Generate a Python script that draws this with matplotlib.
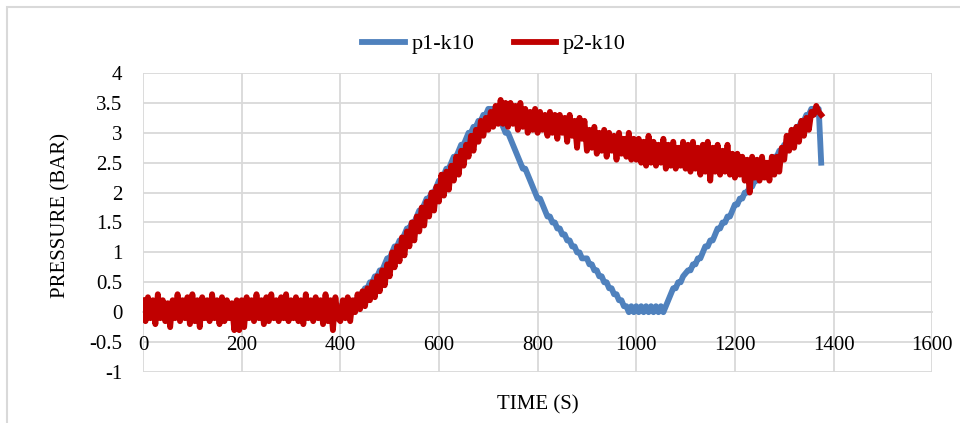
import numpy as np
import matplotlib.pyplot as plt
from matplotlib.patches import Rectangle

# sample times (s), one reading every 5 s
time_s = np.arange(0, 1376, 5)

# p1-k10 pressure (bar)
p1_k10 = [
    0.1, 0.0, 0.1, 0.0, 0.1, 0.1, 0.0, 0.1, 0.0, 0.1, 0.0, 0.1, 0.1, 0.0, 0.1, 0.0, 0.1, 0.0, 0.1, 0.1,
    0.0, 0.1, 0.0, 0.1, 0.1, 0.0, 0.1, 0.0, 0.1, 0.0, 0.1, 0.1, 0.0, 0.1, 0.0, 0.1, 0.0, 0.1, 0.0, 0.1,
    0.1, 0.0, 0.1, 0.0, 0.1, 0.0, 0.1, 0.1, 0.0, 0.1, 0.0, 0.1, 0.0, 0.1, 0.1, 0.0, 0.1, 0.0, 0.1, 0.0,
    0.1, 0.1, 0.0, 0.1, 0.0, 0.1, 0.0, 0.1, 0.1, 0.0, 0.1, 0.0, 0.1, 0.0, 0.1, 0.1, 0.0, 0.1, 0.0, 0.1,
    0.1, 0.0, 0.1, 0.1, 0.0, 0.1, 0.2, 0.2, 0.3, 0.3, 0.4, 0.4, 0.5, 0.5, 0.6, 0.6, 0.7, 0.7, 0.8, 0.9,
    0.9, 1.0, 1.1, 1.1, 1.2, 1.2, 1.3, 1.4, 1.4, 1.5, 1.5, 1.6, 1.7, 1.7, 1.8, 1.9, 1.9, 2.0, 2.0, 2.1,
    2.2, 2.2, 2.3, 2.4, 2.4, 2.5, 2.6, 2.6, 2.7, 2.8, 2.8, 2.9, 3.0, 3.0, 3.1, 3.1, 3.2, 3.2, 3.3, 3.3,
    3.4, 3.4, 3.4, 3.4, 3.3, 3.2, 3.1, 3.0, 3.0, 2.9, 2.8, 2.7, 2.6, 2.5, 2.4, 2.4, 2.3, 2.2, 2.1, 2.0,
    1.9, 1.9, 1.8, 1.7, 1.6, 1.6, 1.5, 1.5, 1.4, 1.4, 1.3, 1.3, 1.2, 1.2, 1.1, 1.1, 1.0, 1.0, 0.9, 0.9,
    0.9, 0.8, 0.8, 0.7, 0.7, 0.6, 0.6, 0.5, 0.5, 0.4, 0.4, 0.3, 0.3, 0.2, 0.2, 0.1, 0.1, 0.0, 0.1, 0.0,
    0.1, 0.0, 0.1, 0.0, 0.1, 0.0, 0.1, 0.0, 0.1, 0.0, 0.1, 0.0, 0.1, 0.2, 0.3, 0.4, 0.4, 0.5, 0.5, 0.6,
    0.65, 0.7, 0.7, 0.8, 0.8, 0.9, 0.9, 1.0, 1.1, 1.1, 1.2, 1.2, 1.3, 1.4, 1.4, 1.5, 1.5, 1.6, 1.6, 1.7,
    1.8, 1.8, 1.9, 1.9, 2.0, 2.0, 2.1, 2.1, 2.2, 2.2, 2.3, 2.3, 2.4, 2.4, 2.5, 2.5, 2.6, 2.6, 2.7, 2.7,
    2.8, 2.8, 2.9, 2.9, 3.0, 3.1, 3.1, 3.2, 3.2, 3.3, 3.3, 3.4, 3.4, 3.4, 3.4, 2.5,
]

# p2-k10 pressure (bar)
p2_k10 = [
    0.2, -0.15, 0.25, -0.1, 0.2, -0.2, 0.3, -0.1, 0.2, -0.15, 0.15, -0.25, 0.2, -0.1, 0.3, -0.15, 0.2, -0.1, 0.25, -0.2,
    0.3, -0.15, 0.2, -0.25, 0.25, -0.1, 0.2, -0.15, 0.3, -0.1, 0.2, -0.2, 0.25, -0.15, 0.2, -0.1, 0.15, -0.3, 0.2, -0.3,
    0.2, -0.25, 0.25, -0.1, 0.2, -0.15, 0.3, -0.1, 0.2, -0.2, 0.25, -0.15, 0.3, -0.1, 0.2, -0.15, 0.25, -0.1, 0.3, -0.15,
    0.2, -0.1, 0.25, -0.15, 0.2, -0.2, 0.3, -0.1, 0.2, -0.15, 0.25, -0.1, 0.2, -0.2, 0.3, -0.15, 0.2, -0.3, 0.25, -0.1,
    -0.15, 0.2, -0.1, 0.25, -0.15, 0.2, 0.0, 0.3, 0.05, 0.35, 0.1, 0.4, 0.2, 0.5, 0.25, 0.6, 0.35, 0.7, 0.45, 0.8,
    0.6, 1.0, 0.75, 1.1, 0.85, 1.25, 0.95, 1.35, 1.1, 1.5, 1.2, 1.6, 1.35, 1.75, 1.45, 1.85, 1.6, 2.0, 1.7, 2.1,
    1.85, 2.3, 1.95, 2.35, 2.05, 2.45, 2.2, 2.6, 2.3, 2.7, 2.45, 2.8, 2.6, 2.95, 2.7, 3.05, 2.85, 3.2, 2.95, 3.25,
    3.05, 3.35, 3.1, 3.45, 3.15, 3.55, 3.15, 3.5, 3.1, 3.5, 3.15, 3.45, 3.05, 3.5, 3.1, 3.4, 3.0, 3.35, 3.05, 3.4,
    3.0, 3.35, 3.05, 3.3, 2.95, 3.35, 3.0, 3.3, 2.9, 3.3, 3.0, 3.25, 2.85, 3.3, 2.95, 3.2, 2.75, 3.25, 2.9, 3.2,
    2.7, 3.05, 2.75, 3.1, 2.65, 3.0, 2.7, 3.05, 2.6, 3.0, 2.7, 2.95, 2.55, 3.0, 2.65, 2.9, 2.6, 3.0, 2.55, 2.9,
    2.55, 2.9, 2.5, 2.85, 2.45, 2.95, 2.5, 2.85, 2.45, 2.8, 2.5, 2.9, 2.4, 2.8, 2.45, 2.85, 2.4, 2.75, 2.45, 2.85,
    2.4, 2.8, 2.35, 2.85, 2.4, 2.75, 2.3, 2.8, 2.35, 2.85, 2.2, 2.75, 2.35, 2.8, 2.3, 2.7, 2.35, 2.8, 2.3, 2.65,
    2.25, 2.65, 2.3, 2.6, 2.2, 2.55, 2.0, 2.6, 2.25, 2.55, 2.2, 2.6, 2.25, 2.5, 2.2, 2.6, 2.3, 2.6, 2.35, 2.75,
    2.55, 2.95, 2.7, 3.05, 2.75, 3.1, 2.85, 3.2, 2.95, 3.25, 3.05, 3.35, 3.3, 3.45, 3.35, 3.3,
]

x_ticks = np.arange(0, 1601, 200)
y_ticks = np.arange(-1, 4.01, 0.5)
y_tick_labels = ['-1', '-0.5', '0', '0.5', '1', '1.5', '2', '2.5', '3', '3.5', '4']

plt.rcParams['font.family'] = ['Liberation Serif', 'DejaVu Serif']

fig = plt.figure(figsize=(9.6, 4.23), dpi=100)
ax = fig.add_axes([0.149, 0.1206, 0.822, 0.7068])

grid_c = '#d9d9d9'
ax.plot(time_s, p1_k10, color='#4f81bd', lw=4.2, label='p1-k10', solid_joinstyle='round', zorder=2)
ax.plot(time_s, p2_k10, color='#c00000', lw=4.2, label='p2-k10', solid_joinstyle='round', zorder=2)

ax.set_xlim(0, 1600)
ax.set_ylim(-1, 4)
ax.set_xticks(x_ticks)
ax.set_yticks(y_ticks)
ax.set_yticklabels(y_tick_labels)
ax.set_axisbelow(True)
ax.grid(True, axis='y', color=grid_c, lw=1.3)
# vertical gridlines kept under the data; x labels drawn above the horizontal grid
for xt in x_ticks:
    ax.axvline(xt, color=grid_c, lw=1.3, zorder=0.4)
ax.xaxis.set_zorder(3)

# category axis crosses at zero like the spreadsheet chart
for side in ['top', 'right', 'left']:
    ax.spines[side].set_visible(False)
ax.spines['bottom'].set_position(('data', 0))
ax.spines['bottom'].set_color(grid_c)
ax.spines['bottom'].set_linewidth(1.3)
ax.spines['bottom'].set_zorder(0.4)
ax.tick_params(axis='both', length=0, labelsize=15)
ax.tick_params(axis='y', pad=15)
ax.tick_params(axis='x', pad=17)

ax.set_xlabel('TIME (S)', fontsize=15, labelpad=0)
ax.xaxis.set_label_coords(0.5, -0.077)
ax.set_ylabel('PRESSURE (BAR)', fontsize=15)
ax.yaxis.set_label_coords(-0.0925, 0.525)

leg = ax.legend(loc='center', bbox_to_anchor=(0.445, 1.097), ncol=2, frameon=False,
                fontsize=16, handlelength=1.9, columnspacing=1.8, handletextpad=0.3)

# light outer frame of the chart area
fig.add_artist(Rectangle((7 / 960, -0.1), 1.2, 1 - 7 / 423 + 0.1, transform=fig.transFigure,
                         fill=False, edgecolor=grid_c, lw=1.5))

fig.savefig('out.png', dpi=100)
